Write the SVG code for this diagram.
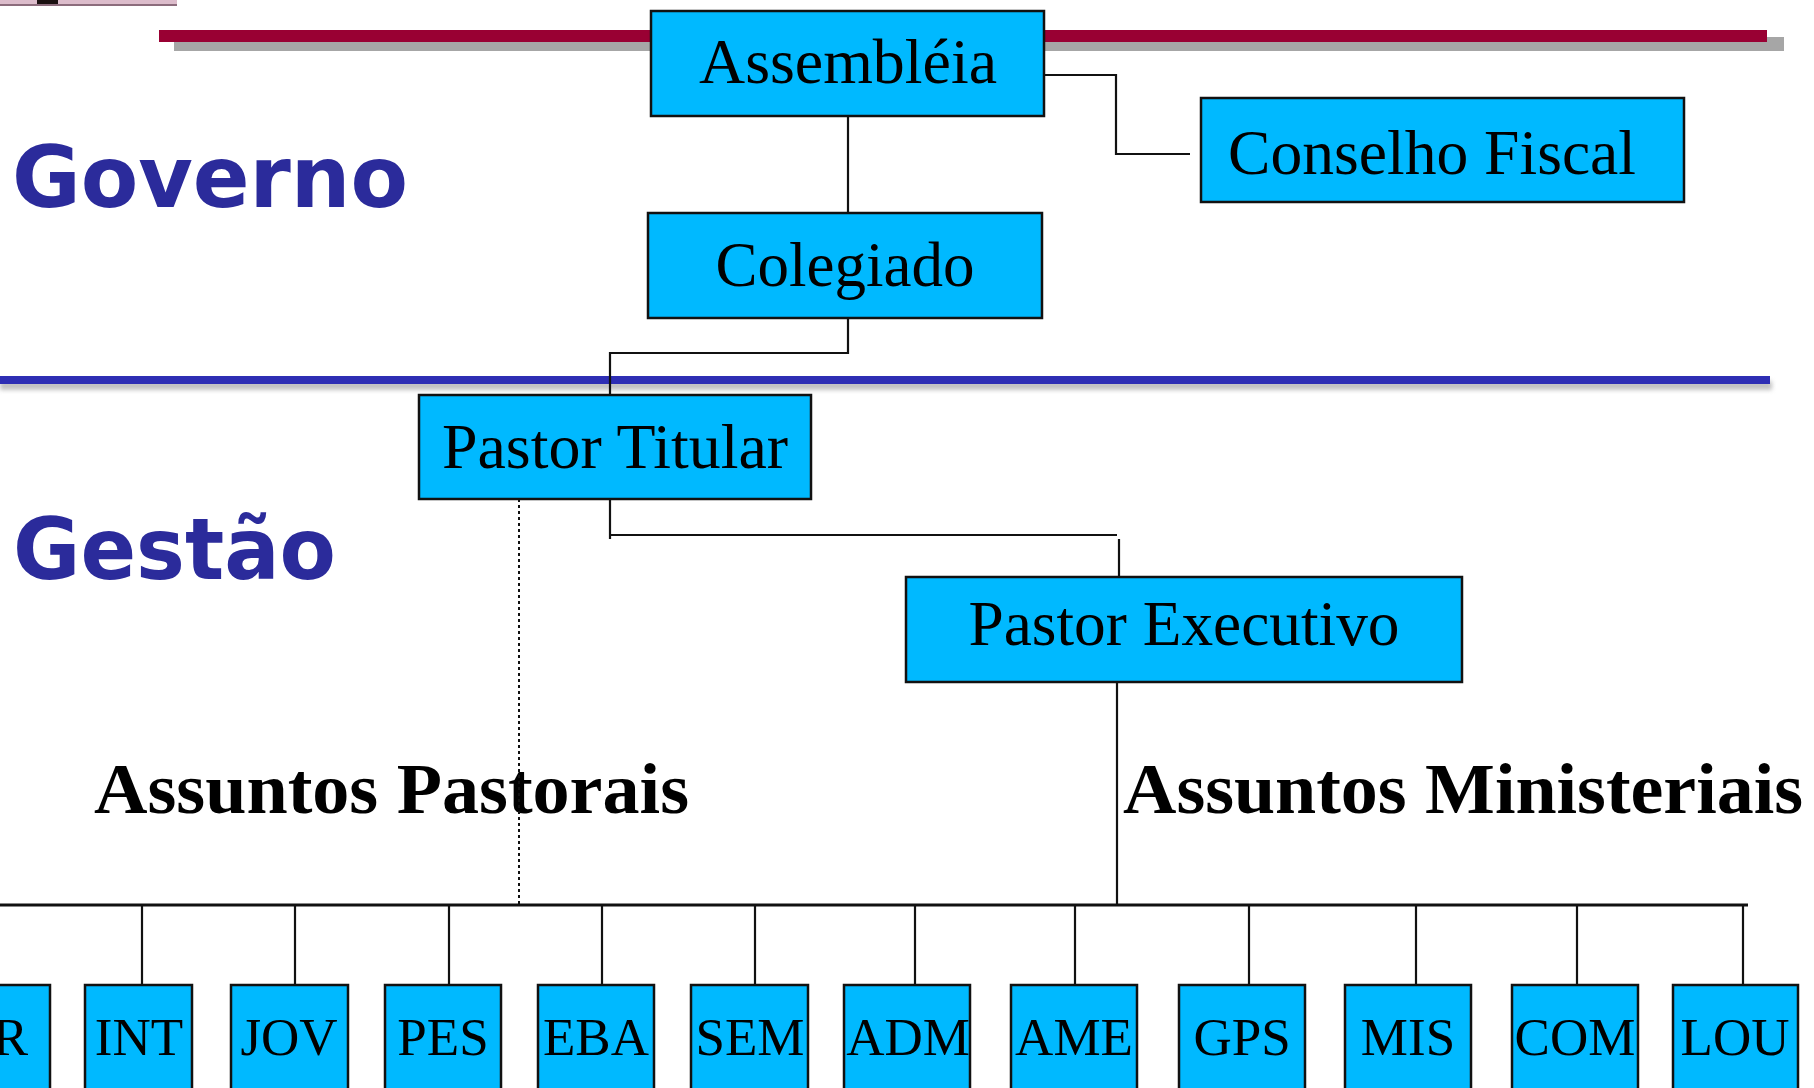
<svg xmlns="http://www.w3.org/2000/svg" width="1814" height="1088" viewBox="0 0 1814 1088">
<style>
.box{fill:#00b9ff;stroke:#111;stroke-width:2.5}
.lbl{font-family:"Liberation Serif","Times New Roman",serif;font-size:64px;fill:#000;text-anchor:middle}
.sm{font-family:"Liberation Serif","Times New Roman",serif;font-size:53px;fill:#000;text-anchor:middle}
.hd{font-family:"Liberation Serif","Times New Roman",serif;font-size:72px;font-weight:bold;fill:#000}
.sec{font-family:"DejaVu Sans","Verdana",sans-serif;font-size:85px;font-weight:bold;fill:#2b2b9b}
.con{fill:none;stroke:#111;stroke-width:2.2}
</style>
<defs>
<filter id="blur" x="-5%" y="-100%" width="110%" height="300%"><feGaussianBlur stdDeviation="2"/></filter>
</defs>
<rect width="1814" height="1088" fill="#ffffff"/>
<g id="top-fragment">
<rect x="0" y="0" width="177" height="5" fill="#dcbccb"/>
<rect x="0" y="4" width="177" height="2" fill="#8c6c7c"/>
<rect x="37" y="0" width="21" height="4" fill="#1a1010"/>
</g>
<g id="rules">
<rect x="174" y="37" width="1610" height="14" fill="#a6a6a6"/>
<rect x="159" y="30" width="1608" height="12" fill="#990033"/>
<rect x="0" y="381" width="1772" height="9" fill="#999" opacity="0.6" filter="url(#blur)"/>
<rect x="0" y="376" width="1770" height="8" fill="#2e2eb4"/>
</g>
<g id="section-labels">
<text class="sec" x="12" y="207" textLength="396" lengthAdjust="spacingAndGlyphs">Governo</text>
<text class="sec" x="13" y="579" textLength="323" lengthAdjust="spacingAndGlyphs">Gestão</text>
<text class="hd" x="94" y="813" textLength="595" lengthAdjust="spacingAndGlyphs">Assuntos Pastorais</text>
<text class="hd" x="1123" y="813" textLength="680" lengthAdjust="spacingAndGlyphs">Assuntos Ministeriais</text>
</g>
<g id="connectors">
<line class="con" x1="848" y1="116" x2="848" y2="213"/>
<polyline class="con" points="1044,75 1116,75 1116,154 1190,154"/>
<polyline class="con" points="848,318 848,353 610,353 610,395"/>
<polyline class="con" points="610,499 610,539"/>
<line class="con" x1="610" y1="535" x2="1117" y2="535"/>
<line class="con" x1="1119" y1="539" x2="1119" y2="577"/>
<line x1="519" y1="499" x2="519" y2="905" stroke="#111" stroke-width="2" stroke-dasharray="3,3"/>
<line class="con" x1="1117" y1="682" x2="1117" y2="905"/>
<line x1="0" y1="905" x2="1748" y2="905" stroke="#111" stroke-width="2.8"/>
<line class="con" x1="142" y1="905" x2="142" y2="985"/>
<line class="con" x1="295" y1="905" x2="295" y2="985"/>
<line class="con" x1="449" y1="905" x2="449" y2="985"/>
<line class="con" x1="602" y1="905" x2="602" y2="985"/>
<line class="con" x1="755" y1="905" x2="755" y2="985"/>
<line class="con" x1="915" y1="905" x2="915" y2="985"/>
<line class="con" x1="1075" y1="905" x2="1075" y2="985"/>
<line class="con" x1="1249" y1="905" x2="1249" y2="985"/>
<line class="con" x1="1416" y1="905" x2="1416" y2="985"/>
<line class="con" x1="1577" y1="905" x2="1577" y2="985"/>
<line class="con" x1="1743" y1="905" x2="1743" y2="985"/>
</g>
<g id="assembleia"><rect class="box" x="651" y="11" width="393" height="105"/><text class="lbl" x="848" y="83" textLength="298" lengthAdjust="spacingAndGlyphs">Assembléia</text></g>
<g id="conselho-fiscal"><rect class="box" x="1201" y="98" width="483" height="104"/><text class="lbl" x="1432" y="174" textLength="408" lengthAdjust="spacingAndGlyphs">Conselho Fiscal</text></g>
<g id="colegiado"><rect class="box" x="648" y="213" width="394" height="105"/><text class="lbl" x="845" y="286" textLength="259" lengthAdjust="spacingAndGlyphs">Colegiado</text></g>
<g id="pastor-titular"><rect class="box" x="419" y="395" width="392" height="104"/><text class="lbl" x="615" y="468" textLength="346" lengthAdjust="spacingAndGlyphs">Pastor Titular</text></g>
<g id="pastor-executivo"><rect class="box" x="906" y="577" width="556" height="105"/><text class="lbl" x="1184" y="645" textLength="431" lengthAdjust="spacingAndGlyphs">Pastor Executivo</text></g>
<g id="r"><rect class="box" x="-10" y="985" width="60" height="120"/><text class="sm" x="28" y="1055" style="text-anchor:end">R</text></g>
<g id="int"><rect class="box" x="85" y="985" width="107" height="120"/><text class="sm" x="139" y="1055">INT</text></g>
<g id="jov"><rect class="box" x="231" y="985" width="117" height="120"/><text class="sm" x="289" y="1055">JOV</text></g>
<g id="pes"><rect class="box" x="385" y="985" width="116" height="120"/><text class="sm" x="443" y="1055">PES</text></g>
<g id="eba"><rect class="box" x="538" y="985" width="116" height="120"/><text class="sm" x="596" y="1055">EBA</text></g>
<g id="sem"><rect class="box" x="691" y="985" width="117" height="120"/><text class="sm" x="750" y="1055">SEM</text></g>
<g id="adm"><rect class="box" x="844" y="985" width="126" height="120"/><text class="sm" x="908" y="1055">ADM</text></g>
<g id="ame"><rect class="box" x="1011" y="985" width="126" height="120"/><text class="sm" x="1074" y="1055">AME</text></g>
<g id="gps"><rect class="box" x="1179" y="985" width="126" height="120"/><text class="sm" x="1242" y="1055">GPS</text></g>
<g id="mis"><rect class="box" x="1345" y="985" width="126" height="120"/><text class="sm" x="1408" y="1055">MIS</text></g>
<g id="com"><rect class="box" x="1512" y="985" width="126" height="120"/><text class="sm" x="1575" y="1055">COM</text></g>
<g id="lou"><rect class="box" x="1673" y="985" width="125" height="120"/><text class="sm" x="1735" y="1055">LOU</text></g>
</svg>
